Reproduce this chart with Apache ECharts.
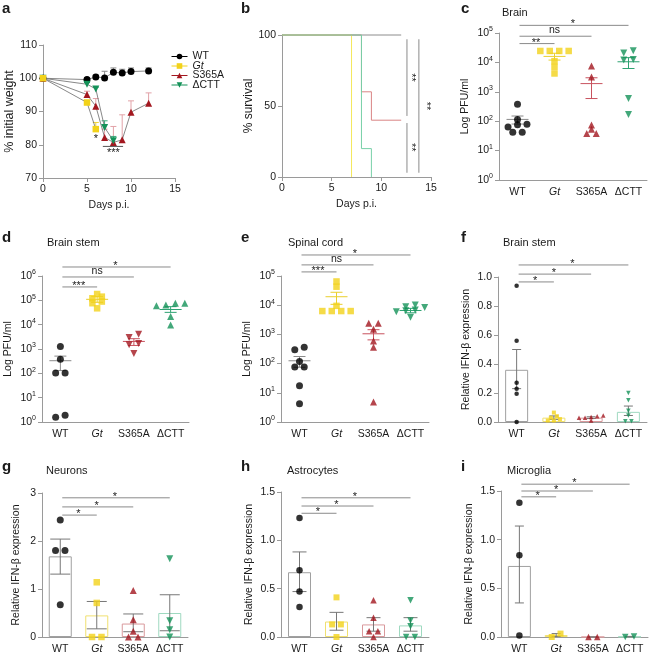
<!DOCTYPE html>
<html><head><meta charset="utf-8">
<script src="https://cdn.jsdelivr.net/npm/echarts@6/dist/echarts.min.js"></script>
<style>html,body{margin:0;padding:0;background:#fff}#c{width:650px;height:654px}</style>
</head><body><div id="c"></div>
<script>
// ================= DATA =================
const groups = ['WT', 'Gt', 'S365A', 'ΔCTT'];

// (a) % initial weight
const weightDaysWT = [0, 5, 6, 7, 8, 9, 10, 12];
const weightWT = [100, 99.6, 100.4, 100.1, 101.8, 101.6, 102.0, 102.2];
const weightErrWT = [0, 0.6, 0.6, 2.0, 1.3, 1.1, 1.1, 0.9];
const weightDaysGt = [0, 5, 6];
const weightGt = [100, 92.7, 84.7];
const weightErrGt = [0, 0.5, 2.0];
const weightDaysS365A = [0, 5, 6, 7, 8, 9, 10, 12];
const weightS365A = [100, 95.1, 91.6, 82.2, 80.7, 81.5, 89.8, 92.5];
const weightErrS365A = [0, 1.0, 2.3, 2.5, 4.8, 7.5, 3.4, 3.1];
const weightDaysCTT = [0, 5, 6, 7, 8];
const weightCTT = [100, 98.2, 96.8, 85.2, 81.2];
const weightErrCTT = [0, 0.5, 0.5, 2.0, 1.3];

// (b) % survival (step curves)
const survDaysWT = [0, 12], survWT = [100, 100];
const survDaysGt = [0, 7], survGt = [100, 0];
const survDaysS365A = [0, 8, 9, 12], survS365A = [100, 60, 40, 40];
const survDaysCTT = [0, 8, 9], survCTT = [100, 20, 0];

// (c) Brain, PFU/ml
const brainWT = [380, 115, 78, 76, 63, 42, 42];
const brainGt = [24500, 24500, 24500, 24500, 11000, 7000, 4200];
const brainS365A = [7600, 3200, 74, 53, 38, 38];
const brainCTT = [21000, 25000, 12500, 12000, 590, 170];
const brainMean = [115, 16000, 1900, 10500];
const brainLo = [80, 12000, 590, 6200];
const brainHi = [150, 20500, 3000, 14500];

// (d) Brain stem, PFU/ml
const stemWT = [1260, 380, 102, 102, 1.55, 1.9];
const stemGt = [182000, 122000, 142000, 47000, 76000, 89000];
const stemS365A = [4000, 3000, 1700, 1500, 650];
const stemCTT = [65000, 76000, 60000, 76000, 21700, 9800];
const stemMean = [330, 110000, 2050, 42000];
const stemLo = [130, 83000, 1400, 32000];
const stemHi = [510, 142000, 2650, 55000];

// (e) Spinal cord, PFU/ml
const cordWT = [365, 300, 118, 76, 76, 17.5, 4.2];
const cordGt = [65000, 43000, 9500, 6300, 6300, 6300, 6300];
const cordS365A = [2400, 2400, 1500, 600, 365, 4.8];
const cordCTT = [8900, 10200, 8300, 6900, 6500, 3900, 6000];
const cordMean = [125, 19500, 1050, 6600];
const cordLo = [75, 10700, 650, 5500];
const cordHi = [175, 27700, 1450, 7800];

// (f) Brain stem, relative IFN-β
const fWT = [0.94, 0.56, 0.27, 0.23, 0.195, 0.0];
const fGt = [0.065, 0.04, 0.03, 0.02, 0.01, 0.01];
const fS365A = [0.045, 0.04, 0.035, 0.03, 0.03, 0.01];
const fCTT = [0.20, 0.15, 0.078, 0.044, 0.005, 0.005];
const fMean = [0.36, 0.03, 0.03, 0.07];
const fLo = [0.23, 0.018, 0.024, 0.045];
const fHi = [0.50, 0.042, 0.036, 0.11];

// (g) Neurons
const gWT = [2.44, 1.80, 1.80, 0.67];
const gGt = [1.14, 0.71, 0, 0];
const gS365A = [0.97, 0.36, 0.12, 0, 0];
const gCTT = [1.63, 0.34, 0.15, 0];
const gMean = [1.68, 0.45, 0.28, 0.5];
const gLo = [1.31, 0.17, 0.11, 0.13];
const gHi = [2.04, 0.74, 0.48, 0.88];

// (h) Astrocytes
const hWT = [1.23, 0.69, 0.47, 0.31];
const hGt = [0.41, 0.13, 0.13, 0];
const hS365A = [0.38, 0.20, 0.06, 0.06, 0];
const hCTT = [0.38, 0.17, 0.11, 0, 0];
const hMean = [0.67, 0.16, 0.13, 0.12];
const hLo = [0.47, 0.07, 0.06, 0.06];
const hHi = [0.88, 0.255, 0.20, 0.20];

// (i) Microglia
const iWT = [1.38, 0.84, 0.015];
const iGt = [0.0, 0.035];
const iS365A = [0, 0];
const iCTT = [0, 0.005];
const iMean = [0.73, 0.02, 0, 0.003];
const iLo = [0.35, 0.005, 0, 0];
const iHi = [1.14, 0.035, 0, 0.006];

// significance labels (WT vs Gt, S365A, ΔCTT)
const sigC = ['**', 'ns', '*'];
const sigD = ['***', 'ns', '*'];
const sigE = ['***', 'ns', '*'];
const sigF = ['*', '*', '*'];
const sigG = ['*', '*', '*'];
const sigH = ['*', '*', '*'];
const sigI = ['*', '*', '*'];

// ================= STYLE / LAYOUT =================
const FONT = '"Liberation Sans", Arial, Helvetica, sans-serif';
const AX = '#9a9a9a';
const TXT = '#1a1a1a';
const markCol = ['#000000', '#f2d21a', '#a3171f', '#149259'];
const errColSc = ['#8a8a8a', '#e9cf2e', '#c8525e', '#2fa373'];
const barBorder = ['#a0a0a0', '#f0e070', '#d9999c', '#9fd9c0'];
const survCol = ['#8c8c8c', '#f4e85a', '#d98585', '#78d0a8'];

const layout = {
  a: {left: 43, top: 45, width: 132, height: 133},
  b: {left: 282, top: 35, width: 149, height: 142},
  c: {left: 499, top: 33, width: 148, height: 147, sig: [Math.pow(10,4.64), Math.pow(10,4.89), Math.pow(10,5.26)], size: 7, nameGap: 28},
  d: {left: 42, top: 276, width: 147, height: 146, sig: [Math.pow(10,5.55), Math.pow(10,5.96), Math.pow(10,6.37)], size: 7, nameGap: 28},
  e: {left: 281, top: 276, width: 148, height: 146, sig: [Math.pow(10,5.14), Math.pow(10,5.38), Math.pow(10,5.72)], size: 7, nameGap: 28},
  f: {left: 498, top: 277, width: 149, height: 145, sig: [0.966, 1.02, 1.083], size: 4.5, cap: 9, nameGap: 26},
  g: {left: 42, top: 493, width: 146, height: 144, sig: [2.54, 2.71, 2.9], size: 7, cap: 20, nameGap: 20},
  h: {left: 281, top: 492, width: 148, height: 145, sig: [1.28, 1.355, 1.44], size: 6.5, cap: 14, nameGap: 26},
  i: {left: 501, top: 491, width: 147, height: 146, sig: [1.44, 1.5, 1.57], size: 6.5, cap: 9, nameGap: 26},
};

const symbols = ['circle', 'rect', 'triangle', 'triangle'];
const rotations = [0, 0, 0, 180];

// ================= BUILD =================
const grids = [], xAxes = [], yAxes = [], series = [], titles = [];

function addGrid(r) {
  grids.push({left: r.left, top: r.top, width: r.width, height: r.height, containLabel: false, outerBoundsMode: 'none'});
  return grids.length - 1;
}
function addTitle(text, left, top, size, bold) {
  titles.push({text, left, top, padding: 0, textStyle: {fontSize: size, fontWeight: bold ? 'bold' : 'normal', color: TXT, fontFamily: FONT}});
}
const labelBase = {color: TXT, fontSize: 10.5, fontFamily: FONT, margin: 6};
function yAxisBase(gi, o) {
  return Object.assign({
    gridIndex: gi,
    axisLine: {show: true, lineStyle: {color: AX, width: 1}},
    axisTick: {show: true, inside: false, length: 4, lineStyle: {color: AX}},
    splitLine: {show: false},
    axisLabel: Object.assign({}, labelBase),
    nameLocation: 'middle',
    nameTextStyle: {color: TXT, fontSize: 10.5, fontFamily: FONT}
  }, o);
}
function numXAxis(gi, o) {
  return Object.assign({
    type: 'value', gridIndex: gi,
    axisLine: {show: true, lineStyle: {color: AX}},
    axisTick: {show: true, length: 4, lineStyle: {color: AX}},
    splitLine: {show: false},
    axisLabel: Object.assign({}, labelBase),
    nameLocation: 'middle', nameGap: 22,
    nameTextStyle: {color: TXT, fontSize: 10.5, fontFamily: FONT}
  }, o);
}
function catAxis(gi) {
  return {
    type: 'category', gridIndex: gi, data: groups, boundaryGap: true,
    axisLine: {show: true, lineStyle: {color: AX}},
    axisTick: {show: false},
    axisLabel: Object.assign({}, labelBase, {
      margin: 7, interval: 0, hideOverlap: false,
      formatter: v => v === 'Gt' ? '{i|Gt}' : v,
      rich: {i: {fontStyle: 'italic', fontSize: 10.5, color: TXT, fontFamily: FONT}}
    })
  };
}
const logLabel = {
  formatter: v => '10{s|' + Math.round(Math.log10(v)) + '}',
  rich: {s: {fontSize: 7, color: TXT, fontFamily: FONT, verticalAlign: 'top', padding: [0, 0, 7, 0]}}
};

function swarm(vals, k, toPx, size) {
  const thr = size * 0.6, spacing = size * 1.35;
  const items = vals.map(v => ({v, p: toPx(v)})).sort((a, b) => a.p - b.p);
  const clusters = [];
  let cur = [];
  items.forEach(it => {
    if (cur.length && it.p - cur[0].p > thr) { clusters.push(cur); cur = []; }
    cur.push(it);
  });
  if (cur.length) clusters.push(cur);
  const out = [];
  clusters.forEach(cl => cl.forEach((it, j) => out.push({value: [k, it.v], symbolOffset: [(j - (cl.length - 1) / 2) * spacing, 0]})));
  return out;
}

function sigSeries(ai, labels, levels) {
  return {
    type: 'custom', xAxisIndex: ai, yAxisIndex: ai, clip: false, z: 5, silent: true,
    data: labels.map((l, k) => [0, levels[k], k + 1, l]),
    encode: {x: 0, y: 1},
    renderItem: (params, api) => {
      const y = api.value(1);
      const p0 = api.coord([0, y]);
      const p1 = api.coord([api.value(2), y]);
      const lab = labels[params.dataIndex];
      const isNs = lab === 'ns';
      return {type: 'group', children: [
        {type: 'line', shape: {x1: p0[0] + 2, y1: p0[1], x2: p1[0], y2: p1[1]}, style: {stroke: '#8a8a8a', lineWidth: 1}},
        {type: 'text', x: (p0[0] + p1[0]) / 2, y: p0[1] + (isNs ? -0.5 : 4.5),
         style: {text: lab, fill: TXT, font: (isNs ? '10.5px ' : '11px ') + FONT, textAlign: 'center', textVerticalAlign: 'bottom', align: 'center', verticalAlign: 'bottom'}}
      ]};
    }
  };
}

function errSeries(ai, means, los, his, meanW, capW, colors, z) {
  return {
    type: 'custom', xAxisIndex: ai, yAxisIndex: ai, clip: false, z, silent: true,
    data: means.map((m, k) => [k, m, los[k], his[k]]),
    encode: {x: 0, y: 1},
    renderItem: (params, api) => {
      const k = api.value(0);
      const pm = api.coord([k, api.value(1)]);
      const pl = api.coord([k, api.value(2)]);
      const ph = api.coord([k, api.value(3)]);
      const c = colors[params.dataIndex];
      const st = {stroke: c, lineWidth: 1};
      const ch = [
        {type: 'line', shape: {x1: pm[0], y1: pl[1], x2: pm[0], y2: ph[1]}, style: st},
        {type: 'line', shape: {x1: pm[0] - capW / 2, y1: pl[1], x2: pm[0] + capW / 2, y2: pl[1]}, style: st},
        {type: 'line', shape: {x1: pm[0] - capW / 2, y1: ph[1], x2: pm[0] + capW / 2, y2: ph[1]}, style: st}
      ];
      if (meanW) ch.push({type: 'line', shape: {x1: pm[0] - meanW / 2, y1: pm[1], x2: pm[0] + meanW / 2, y2: pm[1]}, style: st});
      return {type: 'group', children: ch};
    }
  };
}

// ---------- panel a ----------
(function () {
  const L = layout.a;
  const gi = addGrid(L);
  xAxes.push(numXAxis(gi, {min: 0, max: 15, interval: 5, name: 'Days p.i.'}));
  yAxes.push(yAxisBase(gi, {type: 'value', min: 70, max: 110, interval: 10, name: '% initial weight', nameGap: 26,
    nameTextStyle: {color: TXT, fontSize: 12.5, fontFamily: FONT}}));
  const ai = xAxes.length - 1;
  const sets = [
    {name: 'WT', d: weightDaysWT, v: weightWT, e: weightErrWT, k: 0, ec: '#8a8a8a', z: 3},
    {name: 'S365A', d: weightDaysS365A, v: weightS365A, e: weightErrS365A, k: 2, ec: '#e2a3a8', z: 4},
    {name: 'ΔCTT', d: weightDaysCTT, v: weightCTT, e: weightErrCTT, k: 3, ec: '#3aa87a', z: 5},
    {name: 'Gt', d: weightDaysGt, v: weightGt, e: weightErrGt, k: 1, ec: '#f0d43a', z: 6}
  ];
  sets.forEach(s => {
    series.push({
      type: 'custom', xAxisIndex: ai, yAxisIndex: ai, z: 2, silent: true, clip: false,
      data: s.d.map((d, i) => [d, s.v[i], s.e[i]]),
      encode: {x: 0, y: 1},
      renderItem: (params, api) => {
        const p = api.coord([api.value(0), api.value(1)]);
        const q = api.coord([api.value(0), api.value(1) + api.value(2)]);
        if (api.value(2) <= 0) return {type: 'group', children: []};
        const st = {stroke: s.ec, lineWidth: 1};
        return {type: 'group', children: [
          {type: 'line', shape: {x1: p[0], y1: p[1], x2: q[0], y2: q[1]}, style: st},
          {type: 'line', shape: {x1: q[0] - 3, y1: q[1], x2: q[0] + 3, y2: q[1]}, style: st}
        ]};
      }
    });
  });
  sets.forEach(s => {
    series.push({
      type: 'line', name: s.name, xAxisIndex: ai, yAxisIndex: ai, z: s.z,
      data: s.d.map((d, i) => [d, s.v[i]]),
      symbol: symbols[s.k], symbolRotate: rotations[s.k], symbolSize: s.k === 1 ? 6.5 : 7,
      showSymbol: true, showAllSymbol: true,
      lineStyle: {color: '#6a6a6a', width: 0.8},
      itemStyle: {color: markCol[s.k]}
    });
  });
  // annotations: '*' under Gt day 6, '***' bar days 7-9
  series.push({
    type: 'custom', xAxisIndex: ai, yAxisIndex: ai, z: 7, clip: false, silent: true,
    data: [[6, 83.3, 0, '*'], [8, 79.5, 1, '***']],
    encode: {x: 0, y: 1},
    renderItem: (params, api) => {
      const i = params.dataIndex;
      const p = api.coord([api.value(0), api.value(1)]);
      const ch = [];
      if (i === 1) {
        const a = api.coord([6.8, 79.5]), b = api.coord([9.1, 79.5]);
        ch.push({type: 'line', shape: {x1: a[0], y1: a[1], x2: b[0], y2: b[1]}, style: {stroke: '#555', lineWidth: 1}});
      }
      ch.push({type: 'text', x: p[0], y: p[1] + (i === 1 ? 1 : 0),
        style: {text: i === 0 ? '*' : '***', fill: TXT, font: '11px ' + FONT, textAlign: 'center', textVerticalAlign: 'top', align: 'center', verticalAlign: 'top'}});
      return {type: 'group', children: ch};
    }
  });
})();

// ---------- panel b ----------
(function () {
  const L = layout.b;
  const gi = addGrid(L);
  xAxes.push(numXAxis(gi, {min: 0, max: 15, interval: 5, name: 'Days p.i.'}));
  yAxes.push(yAxisBase(gi, {type: 'value', min: 0, max: 100, interval: 50, name: '% survival', nameGap: 27,
    nameTextStyle: {color: TXT, fontSize: 12, fontFamily: FONT}}));
  const ai = xAxes.length - 1;
  const sets = [[survDaysWT, survWT, 0], [survDaysGt, survGt, 1], [survDaysS365A, survS365A, 2], [survDaysCTT, survCTT, 3]];
  sets.forEach(([d, v, k], j) => {
    series.push({
      type: 'line', xAxisIndex: ai, yAxisIndex: ai, step: 'end', symbol: 'none', z: 2 + j, clip: false,
      data: d.map((x, i) => [x, v[i]]),
      lineStyle: {color: survCol[k], width: 1}
    });
  });
  // log-rank brackets
  const brackets = [[12.58, 97, 43], [12.58, 38, 3], [13.78, 97, 3]];
  const bLabels = [[12.98, 70, '**'], [12.98, 21, '**'], [14.5, 50, '**']];
  series.push({
    type: 'custom', xAxisIndex: ai, yAxisIndex: ai, clip: false, silent: true, z: 6,
    data: brackets, encode: {x: 0, y: 1},
    renderItem: (params, api) => {
      const a = api.coord([api.value(0), api.value(1)]);
      const b = api.coord([api.value(0), api.value(2)]);
      return {type: 'line', shape: {x1: a[0], y1: a[1], x2: b[0], y2: b[1]}, style: {stroke: '#8a8a8a', lineWidth: 1}};
    }
  });
  series.push({
    type: 'custom', xAxisIndex: ai, yAxisIndex: ai, clip: false, silent: true, z: 6,
    data: bLabels, encode: {x: 0, y: 1},
    renderItem: (params, api) => {
      const p = api.coord([api.value(0), api.value(1)]);
      return {type: 'text', x: p[0], y: p[1], rotation: -Math.PI / 2,
        style: {text: bLabels[params.dataIndex][2], fill: TXT, font: '11px ' + FONT, textAlign: 'center', textVerticalAlign: 'middle', align: 'center', verticalAlign: 'middle'}};
    }
  });
})();

// ---------- scatter (log) panels ----------
function logPanel(key, pts, means, los, his, sig, maxExp) {
  const L = layout[key];
  const gi = addGrid(L);
  xAxes.push(catAxis(gi));
  yAxes.push(yAxisBase(gi, {type: 'log', logBase: 10, min: 1, max: Math.pow(10, maxExp), splitNumber: maxExp,
    name: 'Log PFU/ml', nameGap: L.nameGap,
    axisLabel: Object.assign({}, labelBase, logLabel)}));
  const ai = xAxes.length - 1;
  const pxPerDec = L.height / maxExp;
  series.push(errSeries(ai, means, los, his, 22, 12, errColSc, 3));
  pts.forEach((vals, k) => {
    let sym = symbols[k], rot = rotations[k];
    if (key === 'd' && k === 2) rot = 180;
    if (key === 'd' && k === 3) rot = 0;
    series.push({
      type: 'scatter', xAxisIndex: ai, yAxisIndex: ai, z: 4, clip: false, silent: true,
      symbol: sym, symbolRotate: rot, symbolSize: k === 1 ? L.size - 0.5 : L.size,
      itemStyle: {color: markCol[k]},
      data: swarm(vals, k, v => Math.log10(v) * pxPerDec, L.size)
    });
  });
  series.push(sigSeries(ai, sig, L.sig));
}
logPanel('c', [brainWT, brainGt, brainS365A, brainCTT], brainMean, brainLo, brainHi, sigC, 5);
logPanel('d', [stemWT, stemGt, stemS365A, stemCTT], stemMean, stemLo, stemHi, sigD, 6);
logPanel('e', [cordWT, cordGt, cordS365A, cordCTT], cordMean, cordLo, cordHi, sigE, 5);

// ---------- bar panels ----------
function barPanel(key, pts, means, los, his, sig, max, interval, fmt) {
  const L = layout[key];
  const gi = addGrid(L);
  xAxes.push(catAxis(gi));
  yAxes.push(yAxisBase(gi, {type: 'value', min: 0, max, interval,
    name: 'Relative IFN-β expression', nameGap: L.nameGap,
    axisLabel: Object.assign({}, labelBase, {formatter: v => v.toFixed(fmt)})}));
  const ai = xAxes.length - 1;
  series.push({
    type: 'bar', xAxisIndex: ai, yAxisIndex: ai, barWidth: 23, z: 2, silent: true,
    data: means.map((m, k) => ({value: m, itemStyle: {color: '#ffffff', borderColor: barBorder[k], borderWidth: 1}}))
  });
  series.push(errSeries(ai, means, los, his, 0, L.cap, ['#777', '#777', '#777', '#777'], 3));
  const pxPer = L.height / max;
  pts.forEach((vals, k) => {
    series.push({
      type: 'scatter', xAxisIndex: ai, yAxisIndex: ai, z: 4, clip: false, silent: true,
      symbol: symbols[k], symbolRotate: rotations[k], symbolSize: k === 1 ? L.size - 0.5 : L.size,
      itemStyle: {color: markCol[k]},
      data: swarm(vals, k, v => v * pxPer, L.size)
    });
  });
  series.push(sigSeries(ai, sig, L.sig));
}
barPanel('f', [fWT, fGt, fS365A, fCTT], fMean, fLo, fHi, sigF, 1.0, 0.2, 1);
barPanel('g', [gWT, gGt, gS365A, gCTT], gMean, gLo, gHi, sigG, 3, 1, 0);
barPanel('h', [hWT, hGt, hS365A, hCTT], hMean, hLo, hHi, sigH, 1.5, 0.5, 1);
barPanel('i', [iWT, iGt, iS365A, iCTT], iMean, iLo, iHi, sigI, 1.5, 0.5, 1);

// ---------- titles ----------
addTitle('a', 2, 1, 15, true);
addTitle('b', 241, 1, 15, true);
addTitle('c', 461, 1, 15, true);
addTitle('d', 2, 230, 15, true);
addTitle('e', 241, 230, 15, true);
addTitle('f', 461, 230, 15, true);
addTitle('g', 2, 459, 15, true);
addTitle('h', 241, 459, 15, true);
addTitle('i', 461, 459, 15, true);
addTitle('Brain', 502, 7, 11, false);
addTitle('Brain stem', 47, 237, 11, false);
addTitle('Spinal cord', 288, 237, 11, false);
addTitle('Brain stem', 503, 237, 11, false);
addTitle('Neurons', 46, 465, 11, false);
addTitle('Astrocytes', 287, 465, 11, false);
addTitle('Microglia', 507, 465, 11, false);

const option = {
  animation: false,
  textStyle: {fontFamily: FONT},
  title: titles,
  grid: grids,
  xAxis: xAxes,
  yAxis: yAxes,
  legend: {
    left: 166, top: 46, orient: 'vertical', selectedMode: false,
    itemWidth: 16, itemHeight: 7, itemGap: -1.5,
    textStyle: {fontSize: 10.5, color: TXT, fontFamily: FONT, lineHeight: 9, height: 9,
      rich: {i: {fontStyle: 'italic', fontSize: 10.5, color: TXT, fontFamily: FONT, lineHeight: 9}}},
    formatter: n => n === 'Gt' ? '{i|Gt}' : n,
    data: [
      {name: 'WT', itemStyle: {color: markCol[0]}, lineStyle: {color: markCol[0], width: 1}},
      {name: 'Gt', itemStyle: {color: markCol[1]}, lineStyle: {color: markCol[1], width: 1}},
      {name: 'S365A', itemStyle: {color: markCol[2]}, lineStyle: {color: markCol[2], width: 1}},
      {name: 'ΔCTT', itemStyle: {color: markCol[3]}, lineStyle: {color: markCol[3], width: 1}}
    ]
  },
  series
};
const chart = echarts.init(document.getElementById('c'), null, {renderer: 'canvas'});
chart.setOption(option);
</script>
</body></html>
